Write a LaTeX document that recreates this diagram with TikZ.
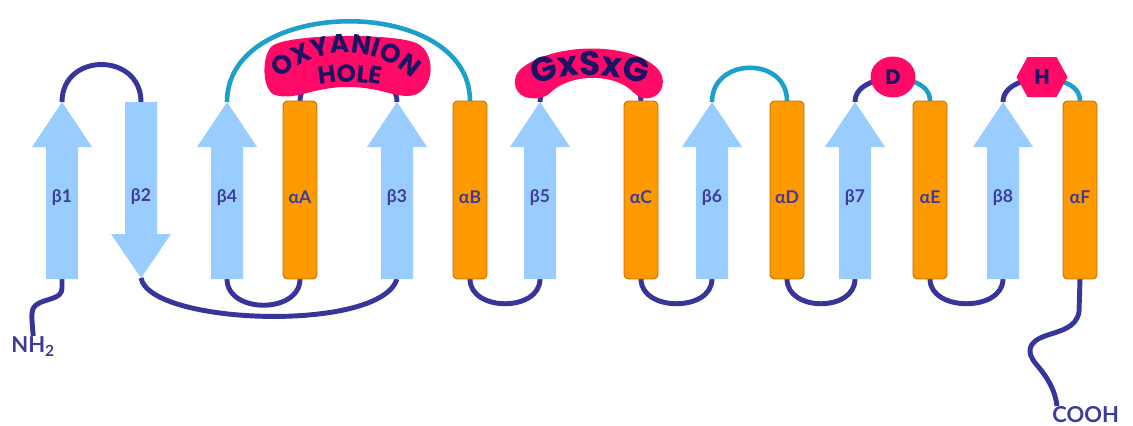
\documentclass[tikz,border=0pt]{standalone}
\usepackage{fontspec}
\setmainfont{Lato}
\newfontfamily\heavyfont{Poppins}
\usetikzlibrary{decorations.text,shapes.geometric,calc}

\definecolor{strandblue}{HTML}{99CCFF}
\definecolor{helixorange}{HTML}{FF9900}
\definecolor{helixedge}{HTML}{B87000}
\definecolor{loopnavy}{HTML}{35359A}
\definecolor{loopcyan}{HTML}{1AA0CA}
\definecolor{motifpink}{HTML}{FF0A66}
\definecolor{motiftext}{HTML}{1B1464}
\definecolor{labelnavy}{HTML}{3D3D99}

\pgfdeclarelayer{bg}
\pgfdeclarelayer{loops}
\pgfsetlayers{bg,loops,main}

\tikzset{
  strandfill/.style={fill=strandblue},
  strand/.style={rectangle, inner sep=0pt, outer sep=0pt,
    minimum width=0.64cm, minimum height=3.54cm},
  helix/.style={rectangle, rounded corners=2.5pt, fill=helixorange,
    draw=helixedge, line width=0.5pt, inner sep=0pt, outer sep=0pt,
    minimum width=0.68cm, minimum height=3.56cm},
  elemlabel/.style={text=labelnavy, font=\bfseries\fontsize{10}{12}\selectfont,
    inner sep=0pt, yshift=-4pt},
  navyloop/.style={draw=loopnavy, line width=2.8pt},
  cyanloop/.style={draw=loopcyan, line width=2.6pt},
  motif/.style={fill=motifpink},
  restext/.style={text=motiftext, font=\heavyfont\bfseries\fontsize{12}{14}\selectfont,
    inner sep=0pt},
  termtext/.style={text=labelnavy, font=\bfseries\fontsize{12.5}{14}\selectfont, inner sep=0pt},
}

% beta strand pointing up: name, x position, label
\newcommand\strandup[3]{%
  \fill[strandfill] (#2-16,-279) -- (#2-16,-147) -- (#2-30,-147) -- (#2,-102)
    -- (#2+30,-147) -- (#2+16,-147) -- (#2+16,-279) -- cycle;
  \node[strand, label={[elemlabel]center:#3}] (#1) at (#2,-190.5) {};}
% beta strand pointing down: name, x position, label
\newcommand\stranddown[3]{%
  \fill[strandfill] (#2-16,-102) -- (#2+16,-102) -- (#2+16,-234) -- (#2+30,-234)
    -- (#2,-278) -- (#2-30,-234) -- (#2-16,-234) -- cycle;
  \node[strand, minimum height=3.52cm, label={[elemlabel]center:#3}] (#1) at (#2,-190) {};}
% alpha helix cylinder: name, x position, label
\newcommand\helixat[3]{%
  \node[helix, label={[elemlabel]center:#3}] (#1) at (#2,-190) {};}
% text bent along a circular arc: font size, centre, radius, start angle, end angle, text
\newcommand\bentword[6]{%
  \path[decorate, decoration={text along path, text align=center,
    text={|\heavyfont\bfseries\fontsize{#1}{#1}\selectfont\color{motiftext}|#6}}]
    #2 ++(#4:#3) arc[start angle=#4, end angle=#5, radius=#3];}

\begin{document}
\begin{tikzpicture}[x=0.02cm, y=0.02cm]
\begin{pgfonlayer}{bg}
  \fill[white] (0,0) rectangle (1133,-426);
\end{pgfonlayer}
\useasboundingbox (0,0) rectangle (1133,-426);

% secondary structure elements
\strandup{b1}{62}{β1}
\stranddown{b2}{141}{β2}
\strandup{b4}{227}{β4}
\helixat{aA}{300}{αA}
\strandup{b3}{397}{β3}
\helixat{aB}{470}{αB}
\strandup{b5}{540}{β5}
\helixat{aC}{641}{αC}
\strandup{b6}{712}{β6}
\helixat{aD}{787}{αD}
\strandup{b7}{855}{β7}
\helixat{aE}{930}{αE}
\strandup{b8}{1003}{β8}
\helixat{aF}{1080}{αF}

% termini
\node[termtext, anchor=north west] (nh2) at (11,-336) {NH\textsubscript{2}};
\node[termtext, anchor=north west] (cooh) at (1052,-406) {COOH};

% catalytic residues
\node[ellipse, motif, minimum width=0.9cm, minimum height=0.82cm, inner sep=0pt] (dres) at (893,-77) {};
\node[restext] at (dres) {D};
\fill[motif] (1042,-77) ++(-25.5,0) -- ++(11,20) -- ++(29,0) -- ++(11,-20)
  -- ++(-11,-20) -- ++(-29,0) -- cycle;
\node[restext] (hres) at (1042,-77) {H};

% oxyanion hole motif
\fill[motif] (275,-95) .. controls (262,-91) and (261,-56) .. (272,-46)
  .. controls (290,-33) and (400,-33) .. (418,-44)
  .. controls (434,-52) and (436,-84) .. (417,-94)
  .. controls (400,-101) and (384,-87) .. (348,-87)
  .. controls (312,-87) and (296,-101) .. (275,-95) -- cycle;
\bentword{15}{(346,-149)}{1.92cm}{160}{20}{OXYANION}
\bentword{14}{(350,-232)}{3cm}{120}{60}{HOLE}

% GxSxG motif
\fill[motif] (525,-97) .. controls (512,-92) and (512,-75) .. (522,-68)
  .. controls (555,-42) and (630,-42) .. (657,-68)
  .. controls (667,-78) and (664,-95) .. (650,-98)
  .. controls (640,-100) and (636,-94) .. (633,-92)
  .. controls (615,-73) and (570,-73) .. (550,-93)
  .. controls (545,-98) and (535,-100) .. (525,-97) -- cycle;
\bentword{19.5}{(590,-233)}{3.16cm}{120}{60}{GxSxG}

% connecting loops
\begin{pgfonlayer}{loops}
  \draw[navyloop] (b1.south) -- (62,-288) .. controls (62,-300) and (45,-298) .. (36,-305)
    .. controls (30,-310) and (32,-318) .. (nh2.north);
  \draw[navyloop] (b1.north) .. controls +(0,50) and +(0,50) .. (b2.north);
  \draw[navyloop] (b2.south) .. controls (150,-325) and (380,-333) .. (b3.south);
  \draw[navyloop] (b4.south) .. controls +(0,-35) and +(0,-35) .. (aA.south);
  \draw[cyanloop] (b4.north) .. controls +(0,107) and +(0,107) .. (aB.north);
  \draw[navyloop] (aA.north) .. controls +(0,40) and +(0,40) .. (b3.north);
  \draw[navyloop] (aB.south) .. controls +(0,-33) and +(0,-33) .. (b5.south);
  \draw[navyloop] (b5.north) .. controls +(0,40) and +(0,40) .. (aC.north);
  \draw[navyloop] (aC.south) .. controls +(0,-33) and +(0,-33) .. (b6.south);
  \draw[cyanloop] (b6.north) .. controls +(0,45) and +(0,45) .. (aD.north);
  \draw[navyloop] (aD.south) .. controls +(0,-33) and +(0,-33) .. (b7.south);
  \draw[navyloop] (b7.north) .. controls +(0,18) and +(-14,-2) .. (dres.center);
  \draw[cyanloop] (dres.center) .. controls +(14,-2) and +(0,18) .. (aE.north);
  \draw[navyloop] (aE.south) .. controls +(0,-33) and +(0,-33) .. (b8.south);
  \draw[navyloop] (b8.north) .. controls +(0,18) and +(-14,-2) .. (hres.center);
  \draw[cyanloop] (hres.center) .. controls +(14,-2) and +(0,18) .. (aF.north);
  \draw[navyloop] (aF.south) -- (1079,-312) .. controls (1076,-328) and (1062,-330) .. (1045,-336)
    .. controls (1028,-342) and (1026,-352) .. (1036,-364)
    .. controls (1048,-378) and (1055,-390) .. ($(cooh.north west)+(5,0)$);
\end{pgfonlayer}
\end{tikzpicture}
\end{document}
